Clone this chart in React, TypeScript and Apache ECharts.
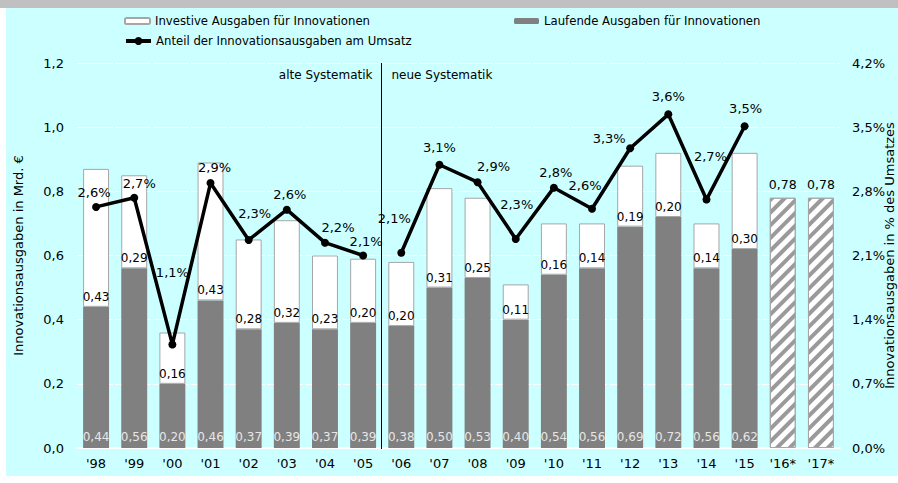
import React, { useEffect, useRef } from "react";
import * as echarts from "echarts";

const categories = ["'98", "'99", "'00", "'01", "'02", "'03", "'04", "'05", "'06", "'07", "'08", "'09", "'10", "'11", "'12", "'13", "'14", "'15", "'16*", "'17*"];
const laufende = [0.44, 0.56, 0.2, 0.46, 0.37, 0.39, 0.37, 0.39, 0.38, 0.5, 0.53, 0.4, 0.54, 0.56, 0.69, 0.72, 0.56, 0.62, null, null];
const investive = [0.43, 0.29, 0.16, 0.43, 0.28, 0.32, 0.23, 0.2, 0.2, 0.31, 0.25, 0.11, 0.16, 0.14, 0.19, 0.2, 0.14, 0.3, null, null];
const prognose = [null, null, null, null, null, null, null, null, null, null, null, null, null, null, null, null, null, null, 0.78, 0.78];
const anteilAlt = [2.63, 2.73, 1.13, 2.89, 2.27, 2.6, 2.24, 2.1, null, null, null, null, null, null, null, null, null, null, null, null];
const anteilNeu = [null, null, null, null, null, null, null, null, 2.13, 3.09, 2.9, 2.28, 2.84, 2.61, 3.27, 3.64, 2.71, 3.51, null, null];

const NAME_INV = "Investive Ausgaben für Innovationen";
const NAME_LAUF = "Laufende Ausgaben für Innovationen";
const NAME_ANT = "Anteil der Innovationsausgaben am Umsatz";

// label offsets (styling) for the percentage labels
const pctLabelOffsets: number[][] = [
  [-2, 1], [5, 1], [0, -56], [4, 0], [6, -11], [3, 0], [13, 0], [3, 1],
  [-7, -19], [0, -2], [16, 0], [1, -19], [2, 0], [-7, -8], [-21, 6], [0, -2], [4, -28], [1, -2],
];

const FONT = "DejaVu Sans";
const fmt2 = (v: number) => v.toFixed(2).replace(".", ",");
const fmtPct = (v: number) => v.toFixed(1).replace(".", ",") + "%";

function lineData(arr: (number | null)[]) {
  return arr.map((v, i) =>
    v == null ? null : { value: v, label: { offset: pctLabelOffsets[i] } }
  );
}

export default function App() {
  const ref = useRef<HTMLDivElement>(null);
  useEffect(() => {
    if (!ref.current) return;
    const chart = echarts.init(ref.current, null, { renderer: "svg" });
    const lineSeriesCommon = {
      type: "line",
      name: NAME_ANT,
      yAxisIndex: 1,
      symbol: "circle",
      symbolSize: 8,
      connectNulls: false,
      z: 5,
      lineStyle: { color: "#000", width: 3.5 },
      itemStyle: { color: "#000" },
      label: {
        show: true,
        position: "top",
        distance: 5,
        color: "#000",
        fontFamily: FONT,
        fontSize: 13,
        formatter: (p: any) => fmtPct(p.value),
      },
    };
    const legendCommon = {
      itemWidth: 25,
      itemHeight: 6,
      textStyle: { fontFamily: FONT, fontSize: 11.7, color: "#000" },
      selectedMode: false,
      padding: 0,
    };
    chart.setOption({
      animation: false,
      backgroundColor: "transparent",
      textStyle: { fontFamily: FONT },
      legend: [
        { ...legendCommon, data: [NAME_INV], left: 124, top: 15 },
        { ...legendCommon, data: [NAME_LAUF], left: 514, top: 15 },
        {
          ...legendCommon,
          data: [NAME_ANT],
          left: 124,
          top: 35,
          itemHeight: 10,
          lineStyle: { width: 4 },
        },
      ],
      grid: { left: 77, right: 58, top: 63, bottom: 35, containLabel: false, outerBoundsMode: "none" },
      xAxis: {
        type: "category",
        data: categories,
        axisLine: { lineStyle: { color: "#fff", width: 2 } },
        axisTick: { show: false },
        axisLabel: { color: "#000", fontFamily: FONT, fontSize: 13, margin: 9 },
      },
      yAxis: [
        {
          type: "value",
          min: 0,
          max: 1.2,
          interval: 0.2,
          name: "Innovationsausgaben in Mrd. €",
          nameLocation: "middle",
          nameGap: 52,
          nameTextStyle: { color: "#000", fontFamily: FONT, fontSize: 13 },
          axisLine: { show: false },
          axisTick: { show: false },
          axisLabel: {
            color: "#000",
            fontFamily: FONT,
            fontSize: 13,
            margin: 13,
            formatter: (v: number) => v.toFixed(1).replace(".", ","),
          },
          splitLine: { show: true, lineStyle: { color: "#fff", width: 1, type: [36, 2] } },
        },
        {
          type: "value",
          min: 0,
          max: 4.2,
          interval: 0.7,
          position: "right",
          name: "Innovationsausgaben in % des Umsatzes",
          nameLocation: "middle",
          nameGap: 43,
          nameMoveOverlap: false,
          nameTextStyle: { color: "#000", fontFamily: FONT, fontSize: 13 },
          axisLine: { show: false },
          axisTick: { show: false },
          axisLabel: {
            color: "#000",
            fontFamily: FONT,
            fontSize: 13,
            margin: 12,
            formatter: (v: number) => fmtPct(v),
          },
          splitLine: { show: false },
        },
      ],
      series: [
        {
          type: "bar",
          name: NAME_LAUF,
          stack: "a",
          data: laufende,
          barWidth: "68%",
          itemStyle: { color: "#808080" },
          label: {
            show: true,
            position: "insideBottom",
            distance: 5,
            color: "#e6e6e6",
            fontFamily: FONT,
            fontSize: 12,
            formatter: (p: any) => fmt2(p.value),
          },
        },
        {
          type: "bar",
          name: NAME_INV,
          stack: "a",
          data: investive,
          itemStyle: { color: "#fff", borderColor: "#a6a6a6", borderWidth: 1 },
          label: {
            show: true,
            position: "insideBottom",
            distance: 4,
            color: "#000",
            fontFamily: FONT,
            fontSize: 12,
            formatter: (p: any) => fmt2(p.value),
          },
        },
        {
          type: "bar",
          name: "Prognose",
          stack: "a",
          data: prognose,
          itemStyle: {
            color: "#fff",
            borderColor: "#a6a6a6",
            borderWidth: 1,
            decal: {
              symbol: "rect",
              symbolSize: 1,
              color: "#9a9a9a",
              dashArrayX: [1, 0],
              dashArrayY: [4, 5],
              rotation: -Math.PI / 4,
            },
          },
          label: {
            show: true,
            position: "top",
            distance: 7,
            color: "#000",
            fontFamily: FONT,
            fontSize: 12.5,
            formatter: (p: any) => fmt2(p.value),
          },
        },
        { ...lineSeriesCommon, data: lineData(anteilAlt) },
        { ...lineSeriesCommon, data: lineData(anteilNeu) },
      ],
    });
    const x1 = chart.convertToPixel({ xAxisIndex: 0 }, categories[7]) as number;
    const x2 = chart.convertToPixel({ xAxisIndex: 0 }, categories[8]) as number;
    const sepX = Math.round((x1 + x2) / 2) - 0.5;
    const yTop = chart.convertToPixel({ yAxisIndex: 0 }, 1.2) as number;
    const yBot = chart.convertToPixel({ yAxisIndex: 0 }, 0) as number;
    chart.setOption({
      graphic: [
        {
          type: "line",
          z: 10,
          shape: { x1: sepX, y1: yTop, x2: sepX, y2: yBot + 1 },
          style: { stroke: "#000", lineWidth: 1 },
        },
        {
          type: "text",
          z: 10,
          x: sepX - 9,
          y: yTop + 12,
          style: { text: "alte Systematik", fill: "#000", font: `12px "${FONT}"`, align: "right", verticalAlign: "middle" },
        },
        {
          type: "text",
          z: 10,
          x: sepX + 10,
          y: yTop + 12,
          style: { text: "neue Systematik", fill: "#000", font: `12px "${FONT}"`, align: "left", verticalAlign: "middle" },
        },
      ],
    });
    return () => chart.dispose();
  }, []);

  return (
    <div style={{ position: "fixed", left: 0, top: 0, width: 898, height: 483, background: "#fff", overflow: "hidden" }}>
      <div style={{ position: "absolute", left: 0, top: 0, width: 898, height: 8, background: "#c0c0c0" }} />
      <div style={{ position: "absolute", left: 6, top: 8, width: 892, height: 468, background: "#ccffff" }} />
      <div ref={ref} style={{ position: "absolute", left: 0, top: 0, width: 898, height: 483 }} />
    </div>
  );
}
